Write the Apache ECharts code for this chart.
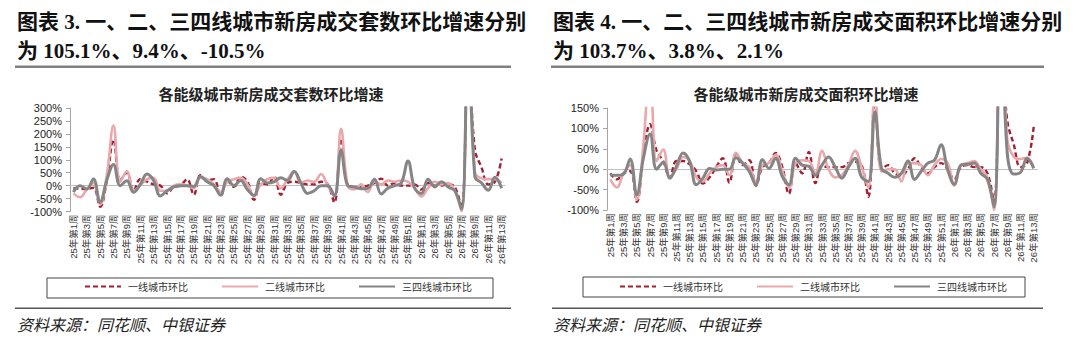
<!DOCTYPE html>
<html>
<head>
<meta charset="utf-8">
<script src="https://cdn.jsdelivr.net/npm/echarts@6/dist/echarts.min.js"></script>
<style>
  html, body { margin: 0; padding: 0; background: #fff; }
  #chart { width: 1080px; height: 345px; }
</style>
</head>
<body>
<div id="chart"></div>
<script>
// Week categories: 2025 weeks 1-52, then 2026 weeks 1-13
const weeks = [];
for (let w = 1; w <= 52; w++) weeks.push('25年第' + w + '周');
for (let w = 1; w <= 13; w++) weeks.push('26年第' + w + '周');

const seriesNames = ['一线城市环比', '二线城市环比', '三四线城市环比'];

// Week-on-week change of new-home transactions (units), %
const unitsTier1 = [-10,-12,-13,-8,-82,20,178,20,50,-20, 25,15,5,0,-30,-5,0,25,-35,40,
  20,25,-40,20,-5,35,15,-55,10,5, 35,-35,10,15,10,5,5,15,5,-65,
  182,0,-10,-5,0,10,27,0,10,0, 0,5,-15,10,0,0,5,-5,-85,520,
  140,70,5,15,105.1];
const unitsTier2 = [-30,-45,-15,10,-73,40,232,15,55,-20, 0,25,30,-20,-20,0,5,0,-10,30,
  25,5,-25,15,25,30,5,-40,5,25, 30,-10,25,55,10,20,15,45,0,-40,
  220,0,-15,5,-25,15,5,20,15,20, 15,-10,-42,-10,15,5,10,-20,-98,640,
  50,28,25,25,9.4];
const unitsTier34 = [-25,0,-13,26,-65,22,82,0,19,-26, 5,45,20,-40,-20,-5,0,0,-3,35,
  15,0,-37,27,0,20,-15,-38,27,10, 15,30,20,55,10,-30,-20,0,0,-40,
  137,0,-5,-12,-10,25,-32,-10,0,10, 95,-10,-30,25,-5,15,-5,-20,-90,580,
  35,10,-18,32,-10.5];

// Week-on-week change of new-home transactions (floor area), %
const areaTier1 = [-10,-25,-10,-5,-80,30,110,45,20,-20, 20,20,12,-5,-35,-20,5,27,-33,38,
  10,22,-40,5,15,40,5,-60,15,-10, 42,-34,8,5,5,5,15,18,10,-68,
  175,0,10,-10,-15,0,27,5,-10,5, 15,0,-25,5,10,5,5,-10,-80,320,
  120,60,5,15,103.7];
const areaTier2 = [-25,-45,-10,10,-75,60,260,20,48,-20, 0,30,20,-20,-30,-10,5,10,-15,40,
  15,5,-30,10,15,35,-5,-45,15,22, 20,-10,45,0,-20,-15,10,45,5,-45,
  200,-5,0,0,-30,15,15,10,-15,10, 25,15,-40,10,15,20,0,-20,-100,420,
  75,30,25,28,3.8];
const areaTier34 = [-15,-15,-12,25,-63,27,86,0,17,-22, 7,40,19,-38,-22,2,-2,0,0,28,
  15,-5,-38,23,2,27,-18,-38,27,10, 7,-15,10,30,5,-22,5,27,-20,-30,
  140,2,-10,-20,-10,20,-25,-5,15,22, 60,-2,-37,10,12,15,-10,-25,-92,400,
  40,-12,-8,27,2.1];

// Value-axis ranges (min, max, step) for each panel
const unitsAxis = [-100, 300, 50];
const areaAxis = [-100, 150, 50];

const COLORS = ['#A31F34', '#E9A9AC', '#858585'];
const CN = '"Noto Sans CJK SC"';

function yAxisFor(gridIndex, range) {
  return {
    type: 'value', gridIndex: gridIndex,
    min: range[0], max: range[1], interval: range[2],
    axisLine: { show: true, lineStyle: { color: '#A6A6A6', width: 1 } },
    axisTick: { show: true, length: 4, lineStyle: { color: '#A6A6A6' } },
    splitLine: { show: false },
    axisLabel: { formatter: '{value}%', fontSize: 11, color: '#222',
                 fontFamily: '"Liberation Sans", Arial', margin: 8 }
  };
}
function xAxesFor(gridIndex) {
  return [{
    type: 'category', gridIndex: gridIndex, data: weeks, position: 'bottom',
    axisLine: { show: false, onZero: false }, axisTick: { show: false },
    axisLabel: { interval: 1, rotate: 90, fontSize: 9.5, color: '#333', margin: 3,
                 fontFamily: '"Liberation Sans", ' + CN }
  }, {
    type: 'category', gridIndex: gridIndex, data: weeks,
    axisLine: { show: true, onZero: true, lineStyle: { color: '#BFBFBF', width: 1.2 } },
    axisTick: { show: false }, axisLabel: { show: false }
  }];
}
function lines(xi, yi, d1, d2, d3) {
  const data = [d1, d2, d3];
  const styles = [
    { color: COLORS[0], width: 2.4, type: [5, 3] },
    { color: COLORS[1], width: 2.6, type: 'solid' },
    { color: COLORS[2], width: 3, type: 'solid' }
  ];
  return data.map((d, k) => ({
    name: seriesNames[k], type: 'line', xAxisIndex: xi, yAxisIndex: yi,
    data: d, smooth: 0.4, symbol: 'none', showSymbol: false, clip: true,
    itemStyle: { color: COLORS[k] },
    lineStyle: styles[k], z: 2 + k
  }));
}
function legendAt(left) {
  return {
    left: left, top: 281, padding: 0, itemWidth: 36, itemHeight: 14, itemGap: 33,
    data: seriesNames, selectedMode: false,
    itemStyle: { opacity: 0 },
    textStyle: { fontSize: 10, color: '#333', fontFamily: CN, padding: [0, 0, 0, 2] }
  };
}
function txt(x, y, text, opt) {
  return { type: 'text', x: x, y: y, silent: true,
           style: Object.assign({ text: text, fill: '#111', verticalAlign: 'middle' }, opt) };
}
function rect(x, y, w, h, style) {
  return { type: 'rect', silent: true, shape: { x: x, y: y, width: w, height: h }, style: style };
}

const titleFont = { fontSize: 21, fontWeight: 'bold', fontFamily: '"Liberation Serif", ' + CN };
const subFont = { fontSize: 15, fontWeight: 'bold', fontFamily: CN, align: 'center', fill: '#222' };
const srcFont = { fontSize: 16, fontStyle: 'italic', fontFamily: CN, fill: '#222' };

const chart = echarts.init(document.getElementById('chart'), null, { renderer: 'svg' });
chart.setOption({
  animation: false,
  backgroundColor: '#fff',
  grid: [
    { left: 70, top: 108, width: 435, height: 103.5 },
    { left: 607, top: 108, width: 430, height: 102 }
  ],
  xAxis: xAxesFor(0).concat(xAxesFor(1)),
  yAxis: [yAxisFor(0, unitsAxis), yAxisFor(1, areaAxis)],
  legend: [legendAt(84), legendAt(619)],
  series: lines(0, 0, unitsTier1, unitsTier2, unitsTier34)
    .concat(lines(2, 1, areaTier1, areaTier2, areaTier34)),
  graphic: [
    txt(17, 22, '图表 3. 一、二、三四线城市新房成交套数环比增速分别', titleFont),
    txt(17, 51, '为 105.1%、9.4%、-10.5%', titleFont),
    txt(553, 22, '图表 4. 一、二、三四线城市新房成交面积环比增速分别', titleFont),
    txt(553, 51, '为 103.7%、3.8%、2.1%', titleFont),
    rect(15, 65.5, 496, 2.5, { fill: '#808080' }),
    rect(551, 65.5, 493, 2.5, { fill: '#808080' }),
    txt(271, 93, '各能级城市新房成交套数环比增速', subFont),
    txt(806, 93, '各能级城市新房成交面积环比增速', subFont),
    rect(47, 278, 446, 20, { fill: 'none', stroke: '#444', lineWidth: 1 }),
    rect(583, 277, 442, 20, { fill: 'none', stroke: '#444', lineWidth: 1 }),
    rect(15, 307.5, 496, 1.5, { fill: '#555' }),
    rect(552, 307.5, 491, 1.5, { fill: '#555' }),
    txt(17, 324, '资料来源：同花顺、中银证券', srcFont),
    txt(553, 324, '资料来源：同花顺、中银证券', srcFont)
  ]
});
</script>
</body>
</html>
